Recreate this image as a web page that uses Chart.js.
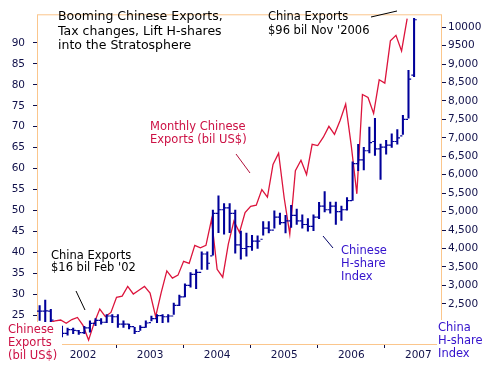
<!DOCTYPE html>
<html>
<head>
<meta charset="utf-8">
<script src="https://cdn.jsdelivr.net/npm/chart.js@4.4.0/dist/chart.umd.min.js"></script>
<style>
  html, body { margin: 0; padding: 0; background: #fff; }
  #wrap { width: 495px; height: 375px; }
</style>
</head>
<body>
<div id="wrap"><canvas id="chart" width="495" height="375"></canvas></div>
<script>
// monthly Chinese exports, bil US$, Jul 2001 .. Nov 2006
const exportsStart = [2001, 7];
const exportValues = [
    23.3, 23.7, 23.9, 23.1, 24.0, 24.5,
    22.6, 19.1, 23.2, 26.5, 24.7, 25.7, 29.3, 29.6, 31.9, 30.1, 31.0, 31.9,
    30.3, 24.7, 30.5, 35.6, 33.9, 34.6, 37.9, 37.4, 41.7, 41.1, 41.7, 47.9,
    36.0, 34.1, 42.0, 47.5, 44.8, 49.5, 51.0, 51.3, 55.0, 53.2, 61.0, 63.7,
    53.0, 44.4, 59.5, 62.0, 58.6, 65.8, 65.5, 67.5, 70.1, 68.2, 71.5, 75.4,
    65.5, 54.0, 77.7, 77.0, 73.2, 81.2, 80.4, 90.5, 91.8, 88.1, 95.8
];

// China H-share index, monthly bars, May 2001 .. Dec 2006
const hshareStart = [2001, 5];
const hshareHigh = [
    2450, 2600, 2350, 1950, 1900, 1840, 1840, 1780,
    1890, 2040, 2100, 2100, 2210, 2210, 2210, 2040, 1950, 1860, 1910, 2040,
    2170, 2210, 2210, 2210, 2520, 2740, 3040, 3345, 3430, 3910, 3910, 5040,
    5430, 5220, 5220, 5040, 4470, 4420, 4360, 4340, 4730, 4730, 5020, 4960,
    4900, 5170, 5070, 4910, 4810, 4910, 5250, 5540, 5260, 5260, 5150, 5380,
    6350, 6820, 6740, 7290, 7530, 6830, 6930, 7110, 7220, 7610, 8830, 10240
];
const hshareLow = [
    2050, 2000, 2000, 1750, 1600, 1650, 1690, 1670,
    1690, 1730, 1910, 1950, 1990, 1990, 1860, 1860, 1820, 1690, 1780, 1860,
    2040, 1990, 1990, 2000, 2210, 2450, 2690, 2950, 2910, 3430, 3430, 3820,
    4430, 4390, 4430, 3870, 3710, 3790, 3950, 4000, 4360, 4420, 4550, 4650,
    4420, 4570, 4650, 4550, 4470, 4480, 4810, 4990, 4960, 4650, 4760, 5040,
    5300, 6110, 6130, 6590, 6520, 5870, 6560, 6740, 6830, 7090, 7530, 8660
];
const hshareOpen = [
    2300, 2300, 2300, 1930, 1800, 1700, 1800, 1770,
    1720, 1850, 1970, 2050, 2000, 2170, 2150, 1950, 1950, 1880, 1750, 1860,
    1990, 2100, 2180, 2150, 2170, 2460, 2690, 3000, 3300, 3350, 3850, 3800,
    4950, 5050, 5100, 4950, 4100, 4000, 4050, 4200, 4250, 4550, 4500, 4850,
    4700, 4750, 4900, 4750, 4650, 4600, 4850, 5150, 5050, 5150, 5000, 5050,
    5300, 6300, 6400, 6650, 6900, 6700, 6750, 6800, 6900, 7050, 7500, 8700
];
const hshareClose = [
    2300, 2310, 2060, 1800, 1700, 1800, 1780, 1720,
    1850, 1970, 2050, 2000, 2170, 2150, 1950, 1950, 1880, 1750, 1860, 1980,
    2100, 2180, 2150, 2170, 2460, 2690, 3000, 3300, 3350, 3850, 3600, 4950,
    5050, 5100, 4950, 4100, 4000, 4050, 4200, 4200, 4550, 4500, 4850, 4700,
    4750, 4900, 4750, 4650, 4600, 4850, 5150, 5050, 5150, 5000, 5050, 5300,
    6300, 6400, 6650, 6870, 6700, 6750, 6800, 6900, 7000, 7500, 8590, 10200
];

const yearTicks = [2002, 2003, 2004, 2005, 2006, 2007];
const exportTicks = [25, 30, 35, 40, 45, 50, 55, 60, 65, 70, 75, 80, 85, 90];
const hshareTicks = [2500, 3000, 3500, 4000, 4500, 5000, 5500, 6000, 6500, 7000, 7500, 8000, 8500, 9000, 9500, 10000];
const hshareTickLabels = ['2,500', '3,000', '3,500', '4,000', '4,500', '5,000', '5,500', '6,000',
    '6,500', '7,000', '7,500', '8,000', '8,500', '9,000', '9500', '10000'];

const RED = '#dc143c';
const NAVY = '#00009a';
const FRAME = '#fbc68c';
const TICK_TXT = '#10104a';
const FONT = "Verdana, 'DejaVu Sans', sans-serif";

function monthX(start, i) {
    return start[0] + (start[1] - 1 + i) / 12;
}

const exportPoints = exportValues.map((v, i) => ({ x: monthX(exportsStart, i), y: v }));
const barShift = 0.02;
const hshareBars = hshareHigh.map((h, i) => ({ x: monthX(hshareStart, i) + barShift, y: [hshareLow[i], h] }));
const openTicks = hshareOpen.map((v, i) => ({ x: monthX(hshareStart, i) + barShift - 0.024, y: v }));
const closeTicks = hshareClose.map((v, i) => ({ x: monthX(hshareStart, i) + barShift + 0.024, y: v }));

const notes = {
    id: 'notes',
    beforeDatasetsDraw(chart) {
        const { ctx, chartArea: a } = chart;
        ctx.save();
        ctx.strokeStyle = FRAME;
        ctx.lineWidth = 1;
        ctx.strokeRect(a.left + 0.5, a.top + 0.5, a.right - a.left - 1, a.bottom - a.top);
        ctx.restore();
    },
    afterDatasetsDraw(chart) {
        const { ctx } = chart;
        ctx.save();
        ctx.fillStyle = '#fff';
        ctx.fillRect(0, 322, 62, 53);
        ctx.fillRect(437, 320, 58, 55);

        ctx.textBaseline = 'middle';
        ctx.textAlign = 'left';
        const text = (lines, x, y, step, color, size) => {
            ctx.fillStyle = color;
            ctx.font = size + 'px ' + FONT;
            lines.forEach((s, i) => ctx.fillText(s, x, y + i * step));
        };
        const line = (x1, y1, x2, y2, color) => {
            ctx.strokeStyle = color;
            ctx.lineWidth = 1;
            ctx.beginPath();
            ctx.moveTo(x1, y1);
            ctx.lineTo(x2, y2);
            ctx.stroke();
        };

        text(['Booming Chinese Exports,', 'Tax changes, Lift H-shares', 'into the Stratosphere'], 58, 17, 14.5, '#000', 12.5);
        text(['China Exports', "$96 bil Nov '2006"], 268, 17, 14, '#000', 11.5);
        line(371, 17, 397, 11, '#000');
        text(['Monthly Chinese', 'Exports (bil US$)'], 150, 127, 13.5, '#cc1144', 11.5);
        line(236, 154, 250, 173, '#b0103a');
        text(['China Exports', "$16 bil Feb '02"], 51, 256, 12.5, '#000', 11.5);
        line(76, 291, 85, 310, '#000');
        text(['Chinese', 'H-share', 'Index'], 341, 251, 13, '#3311cc', 11.5);
        line(323, 236, 333, 248, '#000066');
        text(['Chinese', 'Exports', '(bil US$)'], 8, 330, 13, '#cc1144', 11.5);
        text(['China', 'H-share', 'Index'], 438, 328, 13, '#3311cc', 11.5);
        ctx.restore();
    }
};

const tickFont = { family: FONT, size: 10.5 };

new Chart(document.getElementById('chart'), {
    data: {
        datasets: [
            {
                type: 'line',
                label: 'Monthly Chinese Exports (bil US$)',
                data: exportPoints,
                yAxisID: 'y',
                borderColor: RED,
                borderWidth: 1.3,
                pointRadius: 0,
                tension: 0,
                order: 2
            },
            {
                type: 'bar',
                label: 'H-share range',
                data: hshareBars,
                yAxisID: 'y2',
                backgroundColor: NAVY,
                barThickness: 1.4,
                grouped: false,
                order: 1
            },
            {
                type: 'line',
                label: 'open',
                data: openTicks,
                yAxisID: 'y2',
                showLine: false,
                pointStyle: 'line',
                pointRadius: 1.1,
                pointBorderWidth: 1.2,
                pointBorderColor: NAVY,
                order: 0
            },
            {
                type: 'line',
                label: 'close',
                data: closeTicks,
                yAxisID: 'y2',
                showLine: false,
                pointStyle: 'line',
                pointRadius: 1.1,
                pointBorderWidth: 1.2,
                pointBorderColor: NAVY,
                order: 0
            }
        ]
    },
    options: {
        responsive: false,
        animation: false,
        layout: { padding: { top: 2, left: 0, right: 0, bottom: 0 } },
        plugins: {
            legend: { display: false },
            tooltip: { enabled: false }
        },
        scales: {
            x: {
                type: 'linear',
                min: 2001.314,
                max: 2007.353,
                offset: false,
                afterBuildTicks: s => { s.ticks = yearTicks.map(v => ({ value: v })); },
                afterFit: s => { s.height = 31; },
                border: { display: false },
                grid: { drawOnChartArea: false, drawTicks: true, tickLength: 4, color: TICK_TXT },
                ticks: { font: tickFont, color: TICK_TXT, padding: 1, maxRotation: 0, callback: v => String(v) }
            },
            y: {
                position: 'left',
                min: 18.17,
                max: 96.83,
                afterBuildTicks: s => { s.ticks = exportTicks.map(v => ({ value: v })); },
                afterFit: s => { s.width = 37; },
                border: { display: false },
                grid: { drawOnChartArea: false, drawTicks: true, tickLength: 4, color: TICK_TXT },
                ticks: { font: tickFont, color: TICK_TXT, padding: 8, callback: v => String(v) }
            },
            y2: {
                position: 'right',
                min: 1411,
                max: 10348,
                afterBuildTicks: s => { s.ticks = hshareTicks.map(v => ({ value: v })); },
                afterFit: s => { s.width = 53; },
                border: { display: false },
                grid: { drawOnChartArea: false, drawTicks: true, tickLength: 4, color: TICK_TXT },
                ticks: {
                    font: tickFont, color: TICK_TXT, padding: 2,
                    callback: v => hshareTickLabels[hshareTicks.indexOf(v)]
                }
            }
        }
    },
    plugins: [notes]
});
</script>
</body>
</html>
